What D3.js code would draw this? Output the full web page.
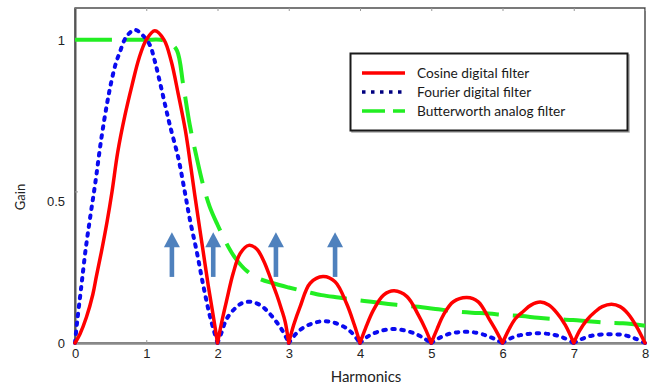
<!DOCTYPE html>
<html><head><meta charset="utf-8">
<script src="https://cdn.jsdelivr.net/npm/d3@7"></script>
<style>
html,body{margin:0;padding:0;background:#fff;}
svg{display:block;}
</style></head>
<body>
<svg id="chart" width="663" height="388"></svg>
<script>
// ---- data ----
const harmonicTicks = [0, 1, 2, 3, 4, 5, 6, 7, 8];
const gainTicks = [0, 0.5, 1];
const gainTickLabels = ["0", "0.5", "1"];
const seriesNames = ["Cosine digital filter", "Fourier digital filter", "Butterworth analog filter"];

const cosineH = [0,0.07,0.16,0.25,0.3,0.37,0.45,0.52,0.6,0.7,0.8,0.9,1.0,1.12,1.25,1.35,1.45,1.55,1.62,1.68,1.73,1.8,1.87,1.94,2.0,
  2.06,2.13,2.22,2.32,2.44,2.55,2.65,2.75,2.83,2.9,2.95,3.0,
  3.07,3.16,3.3,3.48,3.65,3.81,3.92,4.0,
  4.08,4.19,4.33,4.48,4.66,4.82,4.92,5.0,
  5.08,5.17,5.31,5.5,5.66,5.82,5.92,6.0,
  6.08,6.18,6.29,6.4,6.53,6.65,6.76,6.88,7.0,
  7.08,7.18,7.3,7.4,7.53,7.65,7.76,7.88,8.0];
const cosineGain = [0,0.03,0.085,0.16,0.22,0.30,0.40,0.50,0.63,0.75,0.85,0.94,1.0,1.03,1.0,0.93,0.82,0.70,0.59,0.49,0.41,0.30,0.19,0.09,0,
  0.07,0.142,0.23,0.296,0.322,0.31,0.27,0.21,0.16,0.11,0.07,0,
  0.06,0.12,0.197,0.219,0.202,0.131,0.06,0,
  0.05,0.109,0.158,0.172,0.153,0.092,0.045,0,
  0.045,0.092,0.136,0.150,0.136,0.076,0.036,0,
  0.04,0.08,0.104,0.125,0.135,0.125,0.1,0.06,0,
  0.04,0.075,0.103,0.12,0.128,0.12,0.097,0.055,0];

const fourierH = [0,0.03,0.07,0.1,0.15,0.21,0.28,0.37,0.45,0.51,0.57,0.63,0.72,0.84,0.95,1.05,1.12,1.19,1.26,1.33,1.45,1.54,1.61,1.71,1.8,1.89,1.95,2.0,
  2.05,2.13,2.25,2.35,2.47,2.6,2.7,2.8,2.9,2.97,3.0,
  3.1,3.2,3.35,3.5,3.65,3.8,3.9,4.0,
  4.1,4.25,4.45,4.65,4.8,4.9,5.0,
  5.1,5.25,5.45,5.65,5.8,5.9,6.0,
  6.1,6.25,6.5,6.7,6.85,7.0,
  7.1,7.25,7.5,7.7,7.85,8.0];
const fourierGain = [0,0.07,0.15,0.21,0.31,0.41,0.52,0.675,0.79,0.862,0.92,0.96,1.01,1.033,1.015,0.983,0.93,0.862,0.79,0.72,0.61,0.5,0.41,0.30,0.19,0.092,0.04,0,
  0.03,0.08,0.115,0.132,0.136,0.125,0.105,0.078,0.045,0.015,0,
  0.03,0.05,0.066,0.072,0.066,0.05,0.03,0,
  0.02,0.037,0.046,0.04,0.028,0.015,0,
  0.015,0.03,0.037,0.033,0.022,0.012,0,
  0.014,0.026,0.032,0.028,0.018,0,
  0.012,0.024,0.029,0.026,0.016,0];

const butterH = [0,0.5,1.0,1.2,1.33,1.43,1.52,1.61,1.7,1.8,1.89,2.0,2.15,2.25,2.4,2.57,2.78,3.0,3.25,3.46,3.7,3.95,4.16,4.4,4.66,4.87,5.1,5.36,5.57,5.8,6.06,6.27,6.5,6.78,6.99,7.2,7.48,7.69,8.0];
const butterGain = [1.0,1.0,1.0,1.0,0.99,0.965,0.85,0.72,0.62,0.52,0.45,0.39,0.318,0.28,0.24,0.214,0.197,0.183,0.169,0.158,0.15,0.142,0.136,0.129,0.122,0.118,0.111,0.104,0.10,0.097,0.092,0.089,0.083,0.078,0.076,0.072,0.067,0.065,0.057];

// arrows (harmonic positions, gain of tip and base)
const arrowH = [1.36, 1.94, 2.82, 3.65];
const arrowTipGain = 0.365;
const arrowBaseGain = 0.218;

// ---- drawing ----
const svg = d3.select("#chart");
const x = d3.scaleLinear().domain([0, 8]).range([75, 645]);
const y = d3.scaleLinear().domain([0, 1.105]).range([343, 8]);

const colors = {cos: "#ff0000", four: "#0a0af0", butter: "#22ee22", arrow: "#4f81bd"};
const tickFont = "'Liberation Sans', Arial, sans-serif";
const labelFont = "Lato, 'Open Sans', sans-serif";

// frame
svg.append("rect").attr("x", x(0)).attr("y", y(1.105)).attr("width", x(8) - x(0)).attr("height", y(0) - y(1.105))
  .attr("fill", "none").attr("stroke", "#333").attr("stroke-width", 1.3);

// x axis (bottom)
const xAxis = d3.axisBottom(x).tickValues(harmonicTicks).tickFormat(d3.format("d")).tickSizeInner(-3).tickSizeOuter(0).tickPadding(6);
const gx = svg.append("g").attr("transform", `translate(0,${y(0)})`).call(xAxis);
gx.select(".domain").attr("stroke", "#8a8a8a").attr("stroke-width", 2.5);
gx.selectAll(".tick line").attr("stroke", "#999");
gx.selectAll("text").attr("font-family", tickFont).attr("font-size", 13).attr("fill", "#222");

// top ticks
const gt = svg.append("g").attr("transform", `translate(0,${y(1.105)})`)
  .call(d3.axisTop(x).tickValues(harmonicTicks).tickFormat("").tickSizeInner(-3).tickSizeOuter(0));
gt.select(".domain").remove();
gt.selectAll(".tick line").attr("stroke", "#999");

// y axis
const yAxis = d3.axisLeft(y).tickValues(gainTicks).tickFormat((d, i) => gainTickLabels[i]).tickSizeInner(-3).tickSizeOuter(0).tickPadding(10);
const gy = svg.append("g").attr("transform", `translate(${x(0)},0)`).call(yAxis);
gy.select(".domain").attr("stroke", "#555").attr("stroke-width", 2);
gy.selectAll(".tick line").attr("stroke", "#999");
gy.selectAll("text").attr("font-family", tickFont).attr("font-size", 13).attr("fill", "#222");
gy.selectAll(".tick").filter(d => d === 0.5).select("text").attr("dy", "1.05em");

// axis titles
svg.append("text").attr("x", 366).attr("y", 382).attr("text-anchor", "middle")
  .attr("font-family", labelFont).attr("font-size", 15).attr("fill", "#222").text("Harmonics");
svg.append("text").attr("transform", "translate(25,197) rotate(-90)").attr("text-anchor", "middle")
  .attr("font-family", labelFont).attr("font-size", 13).attr("fill", "#222").text("Gain");

// helper: split at interior zeros so the V notches stay sharp
function segPath(hs, gs) {
  const pts = hs.map((h, i) => [h, gs[i]]);
  const segs = [];
  let cur = [];
  pts.forEach((p, i) => {
    cur.push(p);
    if (p[1] === 0 && i > 0 && i < pts.length - 1) { segs.push(cur); cur = [p]; }
  });
  if (cur.length > 1) segs.push(cur);
  const line = d3.line().x(d => x(d[0])).y(d => y(d[1])).curve(d3.curveCatmullRom.alpha(0.5));
  return segs.map(s => line(s)).join("");
}

svg.append("path").attr("d", segPath(butterH, butterGain)).attr("fill", "none")
  .attr("stroke", colors.butter).attr("stroke-width", 4).attr("stroke-dasharray", "37,14");

svg.append("path").attr("d", segPath(fourierH, fourierGain)).attr("fill", "none")
  .attr("stroke", colors.four).attr("stroke-width", 4).attr("stroke-linecap", "round").attr("stroke-dasharray", "2.5,6.5");

svg.append("path").attr("d", segPath(cosineH, cosineGain)).attr("fill", "none")
  .attr("stroke", colors.cos).attr("stroke-width", 3.5).attr("stroke-linecap", "round").attr("stroke-linejoin", "round");

// arrows
const ag = svg.append("g");
arrowH.forEach(h => {
  const cx = x(h), tip = y(arrowTipGain), base = y(arrowBaseGain);
  ag.append("rect").attr("x", cx - 2.3).attr("y", tip + 12).attr("width", 4.6).attr("height", base - tip - 12).attr("fill", colors.arrow);
  ag.append("path").attr("d", `M${cx},${tip} L${cx + 8},${tip + 15} L${cx - 8},${tip + 15} Z`).attr("fill", colors.arrow);
});

// legend
const lg = svg.append("g");
lg.append("rect").attr("x", 352).attr("y", 55).attr("width", 277).attr("height", 77).attr("fill", "none").attr("stroke", "#aaa").attr("stroke-width", 1.5);
lg.append("rect").attr("x", 350.5).attr("y", 53.5).attr("width", 277).attr("height", 77).attr("fill", "#fff").attr("stroke", "#1a1a1a").attr("stroke-width", 2);
const legendStyles = [
  {color: colors.cos, width: 3.5, dash: null, cap: "butt"},
  {color: "#000080", width: 3.5, dash: "3.5,5.5", cap: "butt"},
  {color: colors.butter, width: 3.5, dash: "23,8", cap: "butt"}
];
const rowY = [73, 92, 111];
seriesNames.forEach((name, i) => {
  const st = legendStyles[i];
  lg.append("line").attr("x1", 362).attr("x2", 405).attr("y1", rowY[i]).attr("y2", rowY[i])
    .attr("stroke", st.color).attr("stroke-width", st.width).attr("stroke-dasharray", st.dash).attr("stroke-linecap", st.cap);
  lg.append("text").attr("x", 417).attr("y", rowY[i]).attr("dy", "0.35em")
    .attr("font-family", labelFont).attr("font-size", 13.7).attr("fill", "#1a1a1a").text(name);
});
</script>
</body></html>
